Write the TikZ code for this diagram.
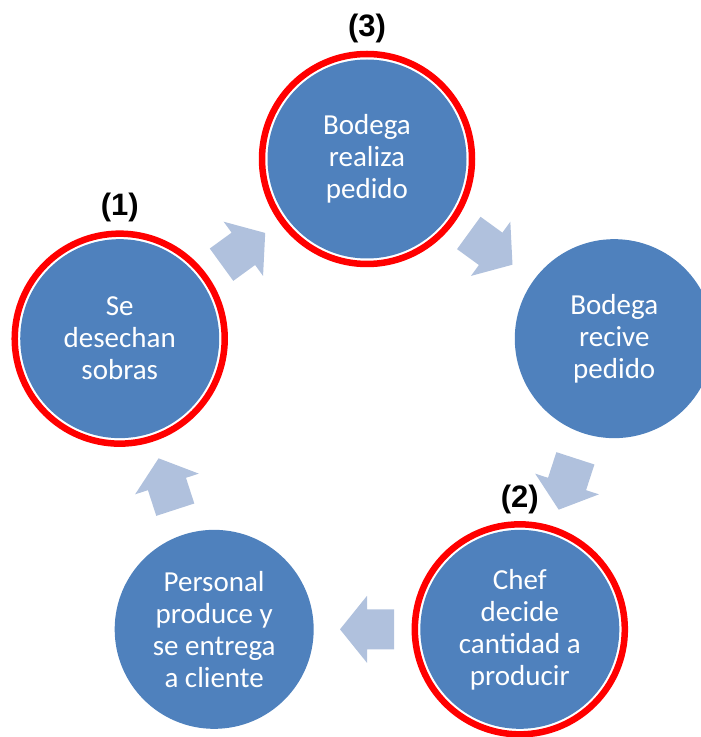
\documentclass[tikz,border=0pt]{standalone}
\usepackage{fontspec}
\setmainfont{Carlito}
\newfontfamily\tagfont{Liberation Sans}
\usetikzlibrary{calc}
\definecolor{stepblue}{RGB}{79,129,189}
\definecolor{flowblue}{RGB}{176,193,221}
\definecolor{ringred}{RGB}{255,0,0}
\tikzset{
  stage/.style={circle, fill=stepblue, minimum size=199pt, inner sep=0pt,
    text=white, align=center, font=\fontsize{29}{32}\selectfont},
  ring/.style={draw=ringred, line width=6.5pt},
  tag/.style={font=\tagfont\bfseries\fontsize{31}{33}\selectfont, inner sep=0pt},
  flow/.style={fill=flowblue},
}
\begin{document}
\begin{tikzpicture}[x=1pt,y=1pt]
\clip (0,0) rectangle (701,737);
\coordinate (o) at (367,318);

% the five stages of the cycle
\node[stage] (realiza) at ($(o)+(90:260pt)$)  {Bodega\\realiza\\pedido};
\node[stage] (recive)  at ($(o)+(18:260pt)$)  {Bodega\\recive\\pedido};
\node[stage] (chef)    at ($(o)+(-54:260pt)$) {Chef\\decide\\cantidad a\\producir};
\node[stage] (entrega) at ($(o)+(234:260pt)$) {Personal\\produce y\\se entrega\\a cliente};
\node[stage] (sobras)  at ($(o)+(162:260pt)$) {Se\\desechan\\sobras};

% highlighted stages
\foreach \s in {realiza, chef, sobras}
  \draw[ring] (\s.center) circle (105pt);

% numbering of the highlighted stages
\node[tag] (t3) at ($(realiza)+(0,131)$) {(3)};
\node[tag] (t2) at ($(chef)+(0,130)$)    {(2)};
\node[tag] (t1) at ($(sobras)+(0,131)$)  {(1)};

% block arrows between consecutive stages
\foreach \a/\b/\ang in {sobras/realiza/36, realiza/recive/-36, recive/chef/-108,
                        chef/entrega/180, entrega/sobras/108}
  \fill[flow, shift={($(\a)!0.5!(\b)$)}, rotate=\ang]
    (-27,-20) -- (0,-20) -- (0,-33.5) -- (27,0) -- (0,33.5) -- (0,20) -- (-27,20) -- cycle;
\end{tikzpicture}
\end{document}
